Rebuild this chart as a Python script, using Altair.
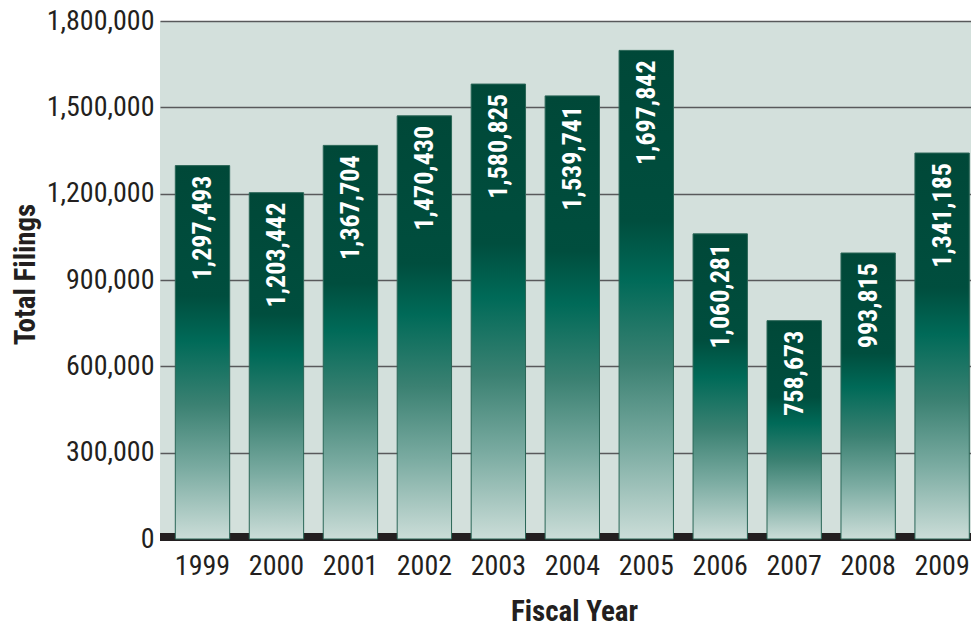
import altair as alt
import pandas as pd

years = ["1999", "2000", "2001", "2002", "2003", "2004", "2005", "2006", "2007", "2008", "2009"]
filings = [1297493, 1203442, 1367704, 1470430, 1580825, 1539741, 1697842, 1060281, 758673, 993815, 1341185]
y_ticks = [0, 300000, 600000, 900000, 1200000, 1500000, 1800000]

df = pd.DataFrame({"year": years, "filings": filings})
df["label"] = df["filings"].map(lambda v: f"{v:,}")

FONT = "Roboto Condensed, Liberation Sans Narrow, Roboto, sans-serif"
INK = "#231f20"

gradient = alt.LinearGradient(
    gradient="linear",
    x1=0, y1=0, x2=0, y2=1,
    stops=[
        alt.GradientStop(offset=0.0, color="#004838"),
        alt.GradientStop(offset=0.35, color="#004e3e"),
        alt.GradientStop(offset=0.47, color="#006a58"),
        alt.GradientStop(offset=0.64, color="#3b8172"),
        alt.GradientStop(offset=0.81, color="#7aaba1"),
        alt.GradientStop(offset=1.0, color="#cbddd8"),
    ],
)

x_enc = alt.X(
    "year:N",
    sort=years,
    scale=alt.Scale(paddingInner=0.265, paddingOuter=0.115, align=0.9),
    axis=alt.Axis(
        title="Fiscal Year",
        labelAngle=0,
        labelFont=FONT,
        labelFontSize=28,
        labelColor=INK,
        labelPadding=13,
        ticks=False,
        domain=False,
        titleFont=FONT,
        titleFontSize=29,
        titleFontWeight="bold",
        titleColor=INK,
        titleX=414,
        titleY=81,
        titleAlign="center",
        titleBaseline="alphabetic",
    ),
)

y_scale = alt.Scale(domain=[0, 1800000], nice=False)

bars = alt.Chart(df).mark_bar(
    color=gradient, stroke="#2a6657", strokeWidth=1
).encode(
    x=x_enc,
    y=alt.Y(
        "filings:Q",
        scale=y_scale,
        axis=alt.Axis(
            title="Total Filings",
            values=y_ticks,
            format=",d",
            labelFont=FONT,
            labelFontSize=28,
            labelColor=INK,
            labelPadding=6,
            ticks=False,
            domain=False,
            grid=True,
            gridColor="#58595b",
            gridWidth=1.5,
            titleFont=FONT,
            titleFontSize=29,
            titleFontWeight="bold",
            titleColor=INK,
            titleAngle=270,
            titleX=-126,
            titleY=253,
            titleAlign="center",
            titleBaseline="alphabetic",
        ),
    ),
)

baseline = alt.Chart(df).mark_rule(color=INK, strokeWidth=8, yOffset=-2).encode(
    y=alt.Y("zero:Q", scale=y_scale)
).transform_calculate(zero="0")

labels = alt.Chart(df).mark_text(
    angle=270,
    align="right",
    baseline="middle",
    dx=-10,
    dy=1,
    color="white",
    font=FONT,
    fontSize=26,
    fontWeight="bold",
).encode(
    x=alt.X("year:N", sort=years),
    y=alt.Y("filings:Q", scale=y_scale),
    text="label:N",
)

chart = alt.layer(baseline, bars, labels).properties(
    width=811,
    height=518,
    autosize=alt.AutoSizeParams(type="none"),
    padding={"left": 160, "top": 21, "right": 0, "bottom": 88},
    background="white",
).configure_view(fill="#d3e0dc", strokeWidth=0)

chart.save("out.html", embed_options={"renderer": "svg", "actions": False})
